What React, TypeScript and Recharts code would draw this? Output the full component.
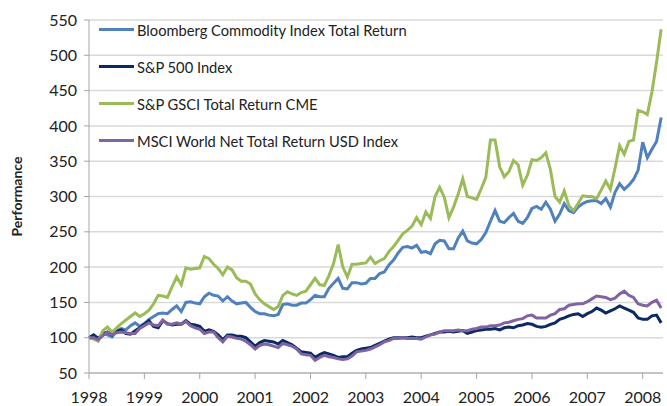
import { CartesianGrid, Legend, Line, LineChart, XAxis, YAxis } from "recharts";

// monthly values, Jan 1998 onwards (index = months since Jan 1998)
const years = [1998, 1999, 2000, 2001, 2002, 2003, 2004, 2005, 2006, 2007, 2008];
const yTicks = [50, 100, 150, 200, 250, 300, 350, 400, 450, 500, 550];

const seriesNames = [
  "Bloomberg Commodity Index Total Return",
  "S&P 500 Index",
  "S&P GSCI Total Return CME",
  "MSCI World Net Total Return USD Index",
];

const bloomberg = [
  100, 103, 98, 106, 104, 101, 110, 113, 111, 117, 121, 116,
  120, 126, 130, 134, 135, 134, 140, 145, 137, 150, 151, 149,
  148, 158, 163, 160, 159, 152, 158, 152, 148, 149, 150, 143,
  137, 134, 134, 132, 131, 133, 147, 148, 146, 146, 149, 149,
  154, 160, 158, 158, 170, 177, 184, 170, 169, 178, 178, 176,
  177, 184, 184, 191, 193, 203, 210, 220, 228, 229, 227, 231,
  221, 222, 219, 233, 238, 237, 226, 226, 241, 251, 237, 234,
  233, 239, 249, 265, 280, 265, 263, 270, 276, 265, 262, 270,
  283, 286, 282, 292, 282, 265, 275, 290, 280, 277, 285, 290,
  293, 294, 294, 290, 297, 285, 306, 318, 310, 316, 324, 337,
  377, 355, 367, 378, 412,
];

const sp500 = [
  100, 104, 99, 106, 108, 104, 109, 111, 106, 105, 110, 114,
  119, 124, 116, 114, 124, 120, 118, 119, 119, 124, 119, 118,
  116, 109, 111, 109, 104, 97, 104, 104, 102, 102, 100, 94,
  88, 93, 96, 95, 94, 91, 96, 93, 90, 85, 80, 79,
  78, 72, 76, 79, 77, 75, 72, 73, 73, 78, 82, 84,
  85, 86, 89, 92, 95, 98, 100, 100, 100, 100, 101, 100,
  100, 102, 104, 106, 108, 108, 109, 108, 109, 110, 106, 108,
  110, 111, 112, 112, 113, 111, 114, 115, 114, 117, 118, 120,
  119, 116, 115, 116, 119, 121, 126, 128, 131, 133, 134, 130,
  134, 137, 142, 139, 135, 138, 141, 145, 142, 139, 136, 128,
  126, 126, 131, 132, 121,
];

const gsci = [
  100, 98, 95, 110, 115, 108, 114, 120, 125, 130, 135, 130,
  134, 139, 148, 160, 159, 157, 172, 186, 175, 199, 197, 198,
  199, 215, 212, 204, 198, 189, 200, 196, 185, 180, 180, 176,
  162, 154, 148, 144, 140, 144, 160, 165, 162, 160, 164, 166,
  175, 184, 175, 174, 188, 205, 232, 200, 186, 204, 204, 205,
  206, 214, 205, 209, 212, 222, 229, 238, 247, 252, 258, 270,
  260, 278, 269, 300, 313, 299, 270, 285, 303, 325, 300, 298,
  296, 311, 327, 380, 380, 342, 328, 335, 351, 345, 316, 330,
  352, 351, 355, 362, 338, 300, 292, 308, 287, 280, 290, 301,
  300, 300, 297, 309, 322, 310, 340, 372, 360, 378, 380, 422,
  420, 416, 448, 490, 537,
];

const msci = [
  100, 100, 97, 103, 108, 104, 107, 108, 107, 106, 106, 113,
  117, 121, 118, 117, 125, 119, 119, 121, 119, 123, 117, 114,
  112, 106, 108, 108, 100, 94, 102, 101, 99, 98, 95, 90,
  84, 89, 91, 90, 88, 86, 92, 90, 88, 84, 77, 76,
  75, 68, 72, 75, 73, 72, 70, 69, 70, 74, 80, 81,
  82, 84, 87, 90, 94, 96, 99, 99, 100, 99, 99, 99,
  98, 101, 104, 105, 108, 110, 110, 110, 111, 110, 110, 112,
  113, 115, 115, 117, 117, 118, 121, 122, 124, 126, 127, 131,
  132, 128, 128, 128, 132, 134, 140, 141, 146, 147, 148, 148,
  151, 155, 159, 158, 157, 154, 156, 162, 166, 160, 157, 148,
  146, 145, 150, 153, 142,
];

const data = bloomberg.map((v, i) => ({
  m: i,
  bloomberg: v,
  sp500: sp500[i],
  gsci: gsci[i],
  msci: msci[i],
}));

const font = "Lato, 'Open Sans', sans-serif";

const renderLegend = (props: any) => {
  const items = [...props.payload].sort(
    (a: any, b: any) => seriesNames.indexOf(a.value) - seriesNames.indexOf(b.value)
  );
  return (
    <div style={{ fontFamily: font }}>
      {items.map((entry: any) => (
        <div
          key={entry.value}
          style={{ display: "flex", alignItems: "center", height: 37 }}
        >
          <span
            style={{
              display: "inline-block",
              width: 35,
              height: 3,
              background: entry.color,
              marginRight: 3,
            }}
          />
          <span style={{ fontSize: 14.7, color: "#222" }}>{entry.value}</span>
        </div>
      ))}
    </div>
  );
};

export default function App() {
  return (
    <div style={{ position: "absolute", left: 0, top: 0, background: "#fff" }}>
      <LineChart
        width={667}
        height={406}
        data={data}
        margin={{ top: 20, right: 4, bottom: 0, left: 0 }}
      >
        <CartesianGrid vertical={false} stroke="#d9d9d9" strokeWidth={1.5} />
        <XAxis
          dataKey="m"
          type="number"
          domain={[0, 124.4]}
          ticks={years.map((y) => (y - 1998) * 12)}
          tickFormatter={(v: number) => String(1998 + v / 12)}
          height={33}
          stroke="#a6a6a6"
          tickSize={6}
          tickMargin={13}
          tick={{ fill: "#222", fontSize: 16, fontFamily: font }}
        />
        <YAxis
          domain={[50, 550]}
          ticks={yTicks}
          width={89}
          stroke="#a6a6a6"
          tickSize={5}
          tickMargin={7}
          tick={{ fill: "#222", fontSize: 16, fontFamily: font }}
          label={{
            value: "Performance",
            angle: -90,
            position: "insideLeft",
            dx: 12,
            style: {
              textAnchor: "middle",
              fontWeight: 700,
              fontSize: 14,
              fill: "#222",
              fontFamily: font,
            },
          }}
        />
        <Legend
          layout="vertical"
          align="center"
          verticalAlign="middle"
          content={renderLegend}
          wrapperStyle={{ left: 99, top: 11, width: "auto", height: "auto" }}
        />
        <Line
          dataKey="bloomberg"
          name={seriesNames[0]}
          stroke="#4f81bd"
          strokeWidth={3}
          dot={false}
          isAnimationActive={false}
        />
        <Line
          dataKey="sp500"
          name={seriesNames[1]}
          stroke="#0b2a63"
          strokeWidth={3}
          dot={false}
          isAnimationActive={false}
        />
        <Line
          dataKey="gsci"
          name={seriesNames[2]}
          stroke="#9bbb59"
          strokeWidth={3}
          dot={false}
          isAnimationActive={false}
        />
        <Line
          dataKey="msci"
          name={seriesNames[3]}
          stroke="#8064a2"
          strokeWidth={3}
          dot={false}
          isAnimationActive={false}
        />
      </LineChart>
    </div>
  );
}
